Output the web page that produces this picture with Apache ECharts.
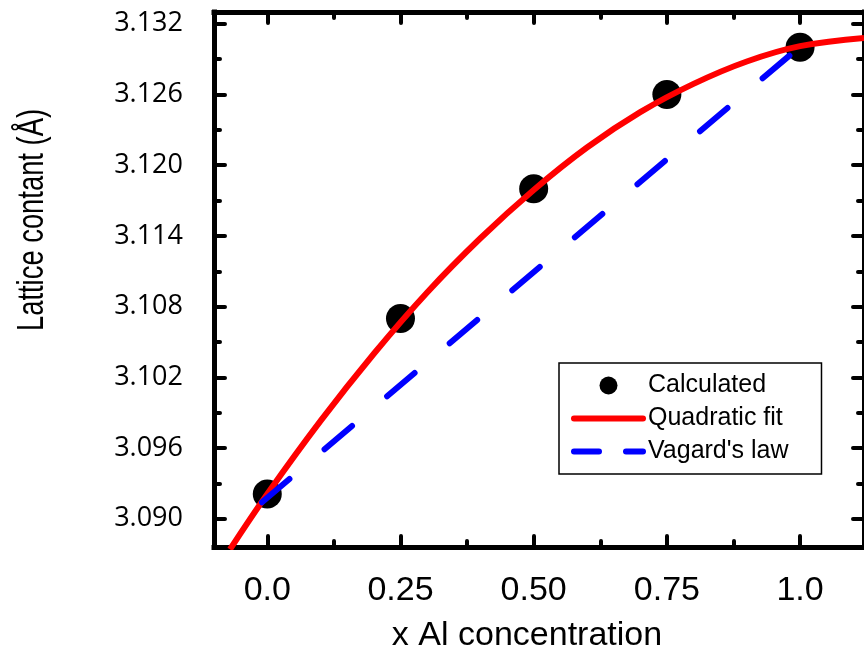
<!DOCTYPE html>
<html>
<head>
<meta charset="utf-8">
<script src="https://cdn.jsdelivr.net/npm/echarts@6/dist/echarts.min.js"></script>
<style>
  html, body { margin: 0; padding: 0; background: #fff; }
  #chart { width: 864px; height: 654px; }
</style>
</head>
<body>
<div id="chart"></div>
<script>
// calculated points
const calcX = [0, 0.25, 0.5, 0.75, 1.0];
const calcY = [3.0921, 3.1070, 3.1180, 3.1260, 3.1300];

// quadratic fit curve
const fitX = [-0.07, 0, 0.1, 0.2, 0.3, 0.4, 0.5, 0.6, 0.7, 0.8, 0.9, 1.0, 1.12];
const fitY = [3.0874, 3.0921, 3.0983, 3.1040, 3.1092, 3.1138, 3.1179, 3.1215, 3.1245, 3.1269, 3.1288, 3.1301, 3.1308];

// Vegard's law straight line
const vegX = [-0.01, 0.98];
const vegY = [3.0914, 3.1293];

// ticks
const xMajorTicks = [0, 0.25, 0.5, 0.75, 1.0];
const xTickLabels = ['0.0', '0.25', '0.50', '0.75', '1.0'];
const xMinorTicks = [0.125, 0.375, 0.625, 0.875];
const yMajorTicks = [3.090, 3.096, 3.102, 3.108, 3.114, 3.120, 3.126, 3.132];
const yTickLabels = ['3.090', '3.096', '3.102', '3.108', '3.114', '3.120', '3.126', '3.132'];
const yMinorTicks = [3.093, 3.099, 3.105, 3.111, 3.117, 3.123, 3.129];

const names = ['Calculated', 'Quadratic fit', "Vagard's law"];

const X_MIN = -0.1, X_MAX = 1.12;
const Y_MIN = 3.0876, Y_MAX = 3.1330;

function pickLabel(ticks, labels) {
  return function (v) {
    for (let i = 0; i < ticks.length; i++) {
      if (Math.abs(ticks[i] - v) < 1e-7) return labels[i];
    }
    return '';
  };
}

function xAx(pos, ticks, len, withLine, withLabel) {
  return {
    type: 'value', position: pos, min: X_MIN, max: X_MAX,
    splitLine: { show: false },
    axisLine: { show: withLine, onZero: false, lineStyle: { color: '#000', width: 5, cap: 'square' } },
    axisTick: { show: true, inside: true, length: len, customValues: ticks,
      lineStyle: { color: '#000', width: 4, cap: 'round' } },
    axisLabel: { show: withLabel, customValues: ticks, margin: 27,
      formatter: pickLabel(xMajorTicks, xTickLabels),
      fontFamily: 'Liberation Sans', fontSize: 34, color: '#000' }
  };
}

function yAx(pos, ticks, len, withLine, withLabel) {
  return {
    type: 'value', position: pos, min: Y_MIN, max: Y_MAX,
    splitLine: { show: false },
    axisLine: { show: withLine, onZero: false, lineStyle: { color: '#000', width: 5, cap: 'square' } },
    axisTick: { show: true, inside: true, length: len, customValues: ticks,
      lineStyle: { color: '#000', width: 4, cap: 'round' } },
    axisLabel: { show: withLabel, customValues: ticks, margin: 31,
      formatter: pickLabel(yMajorTicks, yTickLabels),
      fontFamily: 'Open Sans', fontSize: 27, color: '#000', padding: [0, 0, 9, 0] }
  };
}

const chart = echarts.init(document.getElementById('chart'));

chart.setOption({
  animation: false,
  backgroundColor: '#fff',
  grid: { left: 214, right: -3, top: 12, bottom: 107, containLabel: false },
  xAxis: [
    xAx('bottom', xMajorTicks, 11, true, true),
    xAx('bottom', xMinorTicks, 6, false, false),
    xAx('top', xMajorTicks, 11, true, false),
    xAx('top', xMinorTicks, 6, false, false)
  ],
  yAxis: [
    yAx('left', yMajorTicks, 11, true, true),
    yAx('left', yMinorTicks, 6, false, false),
    yAx('right', yMajorTicks, 11, true, false),
    yAx('right', yMinorTicks, 6, false, false)
  ],
  legend: {
    orient: 'vertical',
    left: 559, top: 363,
    padding: [10, 33, 10, 12],
    itemWidth: 69, itemHeight: 18, itemGap: 8,
    borderColor: '#000', borderWidth: 1.5, backgroundColor: '#fff',
    textStyle: { fontFamily: 'Liberation Sans', fontSize: 25, color: '#000' },
    data: [
      { name: names[0], icon: 'circle', itemStyle: { opacity: 1 } },
      { name: names[1], itemStyle: { opacity: 0 },
        lineStyle: { width: 6, cap: 'round' } },
      { name: names[2], itemStyle: { opacity: 0 },
        lineStyle: { width: 6, type: [25, 27], cap: 'round' } }
    ]
  },
  graphic: [
    { type: 'text', x: 527, y: 636, z: 10,
      style: { text: 'x Al concentration', font: '34px "Liberation Sans"', fill: '#000',
        textAlign: 'center', textVerticalAlign: 'middle' } },
    { type: 'text', x: 33, y: 220, rotation: Math.PI / 2, scaleX: 0.76, z: 10,
      style: { text: 'Lattice contant (Å)', font: '36px "Liberation Sans"', fill: '#000',
        textAlign: 'center', textVerticalAlign: 'middle' } }
  ],
  series: [
    {
      name: names[0], type: 'scatter', z: 2,
      symbol: 'circle', symbolSize: 29,
      itemStyle: { color: '#000', opacity: 1 },
      data: calcX.map((x, i) => [x, calcY[i]])
    },
    {
      name: names[1], type: 'line', z: 3, smooth: 0.4,
      symbol: 'none', showSymbol: false,
      lineStyle: { color: '#ff0000', width: 6 },
      itemStyle: { color: '#ff0000' },
      data: fitX.map((x, i) => [x, fitY[i]])
    },
    {
      name: names[2], type: 'line', z: 4,
      symbol: 'none', showSymbol: false,
      lineStyle: { color: '#0000ff', width: 6, type: [36, 46], cap: 'round' },
      itemStyle: { color: '#0000ff' },
      data: vegX.map((x, i) => [x, vegY[i]])
    }
  ]
});
</script>
</body>
</html>
